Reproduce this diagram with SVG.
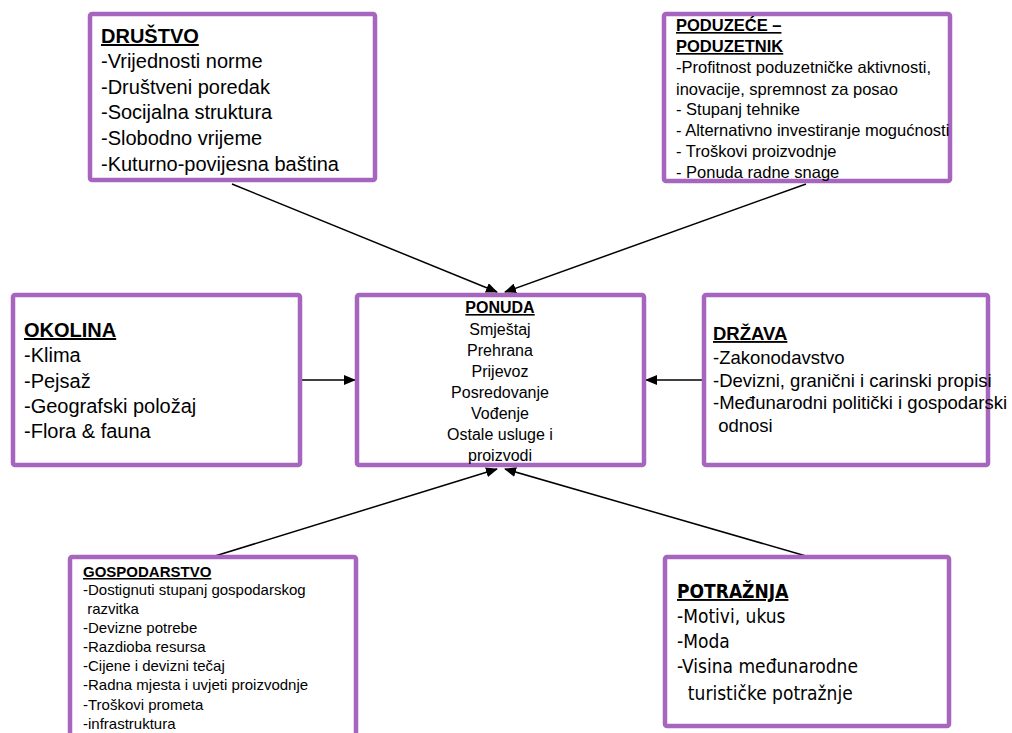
<svg xmlns="http://www.w3.org/2000/svg" width="1012" height="733" viewBox="0 0 1012 733">
<defs>
<marker id="ah" markerUnits="userSpaceOnUse" markerWidth="12" markerHeight="10" refX="11" refY="5" orient="auto">
<path d="M0,0 L12,5 L0,10 Z" fill="#000"/>
</marker>
<style>
.box{fill:#fff;stroke:#a666be;stroke-width:4.5}
.t{font-family:"Liberation Sans",Arial,sans-serif;fill:#000}
.h{font-weight:bold;text-decoration:underline}
.tah{font-family:"DejaVu Sans Condensed","DejaVu Sans",sans-serif;font-stretch:condensed;fill:#000}
.c line{stroke:#000;stroke-width:1.5;marker-end:url(#ah)}
</style>
</defs>
<rect width="1012" height="733" fill="#fff"/>
<g class="c" id="connectors">
<line x1="232" y1="184" x2="497" y2="292"/>
<line x1="806" y1="184" x2="505" y2="292"/>
<line x1="302" y1="380" x2="355" y2="380"/>
<line x1="702" y1="380" x2="646" y2="380"/>
<line x1="215" y1="556" x2="497" y2="469"/>
<line x1="806" y1="556" x2="505" y2="469"/>
</g>
<g id="drustvo">
<rect class="box" x="90" y="14" width="285" height="166" rx="2"/>
<text class="t" font-size="20" x="101"><tspan class="h" y="43">DRUŠTVO</tspan><tspan x="101" y="68">-Vrijednosti norme</tspan><tspan x="101" y="94">-Društveni poredak</tspan><tspan x="101" y="119">-Socijalna struktura</tspan><tspan x="101" y="145">-Slobodno vrijeme</tspan><tspan x="101" y="171">-Kuturno-povijesna baština</tspan></text>
</g>
<g id="poduzece">
<rect class="box" x="664" y="14" width="286" height="167" rx="2"/>
<text class="t" font-size="16.5" x="676"><tspan class="h" y="31">PODUZEĆE –</tspan><tspan class="h" x="676" y="52">PODUZETNIK</tspan><tspan x="676" y="73">-Profitnost poduzetničke aktivnosti,</tspan><tspan x="676" y="95">inovacije, spremnost za posao</tspan><tspan x="676" y="115">- Stupanj tehnike</tspan><tspan x="676" y="136">- Alternativno investiranje mogućnosti</tspan><tspan x="676" y="157">- Troškovi proizvodnje</tspan><tspan x="676" y="178">- Ponuda radne snage</tspan></text>
</g>
<g id="okolina">
<rect class="box" x="13" y="295" width="287" height="170" rx="2"/>
<text class="t" font-size="20" x="24"><tspan class="h" y="337">OKOLINA</tspan><tspan x="24" y="362">-Klima</tspan><tspan x="24" y="388">-Pejsaž</tspan><tspan x="24" y="413">-Geografski položaj</tspan><tspan x="24" y="438">-Flora &amp; fauna</tspan></text>
</g>
<g id="ponuda">
<rect class="box" x="357" y="295" width="287" height="170" rx="2"/>
<text class="t" font-size="16" text-anchor="middle" x="500"><tspan class="h" y="313">PONUDA</tspan><tspan x="500" y="335">Smještaj</tspan><tspan x="500" y="356">Prehrana</tspan><tspan x="500" y="377">Prijevoz</tspan><tspan x="500" y="398">Posredovanje</tspan><tspan x="500" y="419">Vođenje</tspan><tspan x="500" y="440">Ostale usluge i</tspan><tspan x="500" y="461">proizvodi</tspan></text>
</g>
<g id="drzava">
<rect class="box" x="704" y="295" width="284" height="170" rx="2"/>
<text class="t" font-size="18.5" x="713"><tspan class="h" y="340">DRŽAVA</tspan><tspan x="713" y="364">-Zakonodavstvo</tspan><tspan x="713" y="387">-Devizni, granični i carinski propisi</tspan><tspan x="713" y="409">-Međunarodni politički i gospodarski</tspan><tspan x="713" y="432"> odnosi</tspan></text>
</g>
<g id="gospodarstvo">
<rect class="box" x="70" y="557" width="286" height="200" rx="2"/>
<text class="t" font-size="15" x="83" xml:space="preserve"><tspan class="h" y="577">GOSPODARSTVO</tspan><tspan x="83" y="595">-Dostignuti stupanj gospodarskog</tspan><tspan x="83" y="614"> razvitka</tspan><tspan x="83" y="633">-Devizne potrebe</tspan><tspan x="83" y="652">-Razdioba resursa</tspan><tspan x="83" y="671">-Cijene i devizni tečaj</tspan><tspan x="83" y="690">-Radna mjesta i uvjeti proizvodnje</tspan><tspan x="83" y="710">-Troškovi prometa</tspan><tspan x="83" y="729">-infrastruktura</tspan></text>
</g>
<g id="potraznja">
<rect class="box" x="665" y="557" width="284" height="169" rx="2"/>
<text class="tah" font-size="19" x="677" xml:space="preserve"><tspan class="h" y="598">POTRAŽNJA</tspan><tspan x="677" y="623">-Motivi, ukus</tspan><tspan x="677" y="648">-Moda</tspan><tspan x="677" y="673">-Visina međunarodne</tspan><tspan x="677" y="700">  turističke potražnje</tspan></text>
</g>
</svg>
